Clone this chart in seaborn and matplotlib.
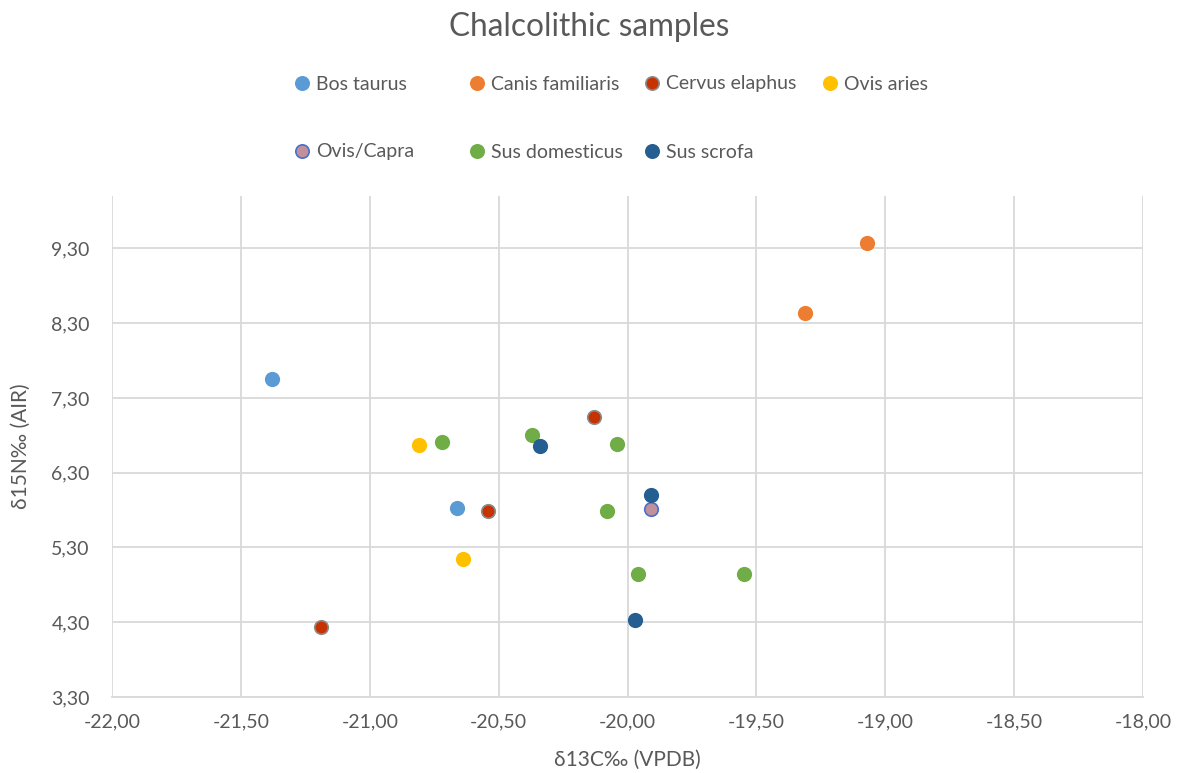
import matplotlib
matplotlib.use("Agg")
import matplotlib.pyplot as plt
import seaborn as sns
import pandas as pd
from matplotlib.ticker import FixedLocator, FuncFormatter
from matplotlib.lines import Line2D

# Stable isotope values per taxon: δ13C (VPDB) and δ15N (AIR)
species = ["Bos taurus", "Canis familiaris", "Cervus elaphus", "Ovis aries",
           "Ovis/Capra", "Sus domesticus", "Sus scrofa"]

bos_taurus_c13 = [-21.38, -20.66]
bos_taurus_n15 = [7.56, 5.83]

canis_familiaris_c13 = [-19.07, -19.31]
canis_familiaris_n15 = [9.37, 8.43]

cervus_elaphus_c13 = [-20.13, -20.54, -21.19]
cervus_elaphus_n15 = [7.05, 5.79, 4.24]

ovis_aries_c13 = [-20.81, -20.64]
ovis_aries_n15 = [6.67, 5.15]

ovis_capra_c13 = [-19.91]
ovis_capra_n15 = [5.81]

sus_domesticus_c13 = [-20.72, -20.37, -20.04, -20.08, -19.96, -19.55]
sus_domesticus_n15 = [6.71, 6.81, 6.68, 5.79, 4.95, 4.94]

sus_scrofa_c13 = [-20.34, -19.91, -19.97]
sus_scrofa_n15 = [6.66, 6.00, 4.33]

c13_values = [bos_taurus_c13, canis_familiaris_c13, cervus_elaphus_c13, ovis_aries_c13,
              ovis_capra_c13, sus_domesticus_c13, sus_scrofa_c13]
n15_values = [bos_taurus_n15, canis_familiaris_n15, cervus_elaphus_n15, ovis_aries_n15,
              ovis_capra_n15, sus_domesticus_n15, sus_scrofa_n15]

x_ticks = [-22.0, -21.5, -21.0, -20.5, -20.0, -19.5, -19.0, -18.5, -18.0]
y_ticks = [3.3, 4.3, 5.3, 6.3, 7.3, 8.3, 9.3]

face_colors = ["#5B9BD5", "#ED7D31", "#C63300", "#FFC000", "#C0909C", "#70AD47", "#255E91"]
edge_colors = ["#5B9BD5", "#ED7D31", "#8C8C8C", "#FFC000", "#4A6FC8", "#70AD47", "#255E91"]

rows = []
for name, xs, ys in zip(species, c13_values, n15_values):
    for x, y in zip(xs, ys):
        rows.append({"species": name, "d13C": x, "d15N": y})
df = pd.DataFrame(rows)

sns.set_theme(style="white")
plt.rcParams["font.family"] = ["Lato", "DejaVu Sans"]

text_color = "#595959"
grid_color = "#D9D9D9"
W, H = 1179, 773

fig = plt.figure(figsize=(W / 100, H / 100), dpi=100)
ax = fig.add_axes([0.095, 0.0983, 0.8745, 0.648])

for name, fc, ec in zip(species, face_colors, edge_colors):
    sub = df[df["species"] == name]
    sns.scatterplot(data=sub, x="d13C", y="d15N", ax=ax, color=fc, edgecolor=ec,
                    linewidth=1.2, s=95, zorder=3, legend=False)

ax.set_xlim(-22.0, -18.0)
ax.set_ylim(3.3, 10.0)
ax.xaxis.set_major_locator(FixedLocator(x_ticks))
ax.yaxis.set_major_locator(FixedLocator(y_ticks))
comma = FuncFormatter(lambda v, p: f"{v:.2f}".replace(".", ","))
ax.xaxis.set_major_formatter(comma)
ax.yaxis.set_major_formatter(comma)

ax.grid(True, color=grid_color, linewidth=1.3)
ax.set_axisbelow(True)
for side in ["top", "left", "right"]:
    ax.spines[side].set_visible(False)
ax.spines["bottom"].set_color(grid_color)
ax.spines["bottom"].set_linewidth(1.3)
ax.tick_params(axis="x", length=0, labelsize=14, labelcolor=text_color, pad=12)
ax.tick_params(axis="y", length=0, labelsize=14, labelcolor=text_color, pad=16)

ax.set_xlabel("δ13C‰ (VPDB)", fontsize=15, color=text_color, labelpad=14)
ax.set_ylabel("δ15N‰ (AIR)", fontsize=15, color=text_color, labelpad=15)

fig.suptitle("Chalcolithic samples", fontsize=22.7, color=text_color, y=0.985)

# Legend entries laid out in two rows of up to four columns
legend_x = [302, 477, 652, 830, 302, 477, 652]
legend_y = [84, 84, 84, 84, 152, 152, 152]
for name, fc, ec, lx, ly in zip(species, face_colors, edge_colors, legend_x, legend_y):
    handle = Line2D([], [], linestyle="none", marker="o", markersize=9.6,
                    markerfacecolor=fc, markeredgecolor=ec, markeredgewidth=1.2)
    fig.legend([handle], [name], loc="center left",
               bbox_to_anchor=((lx - 7.8) / W, 1 - ly / H),
               frameon=False, fontsize=14, labelcolor=text_color,
               borderpad=0, borderaxespad=0, handlelength=0.8, handletextpad=0.32)

fig.savefig("out.png", dpi=100)
